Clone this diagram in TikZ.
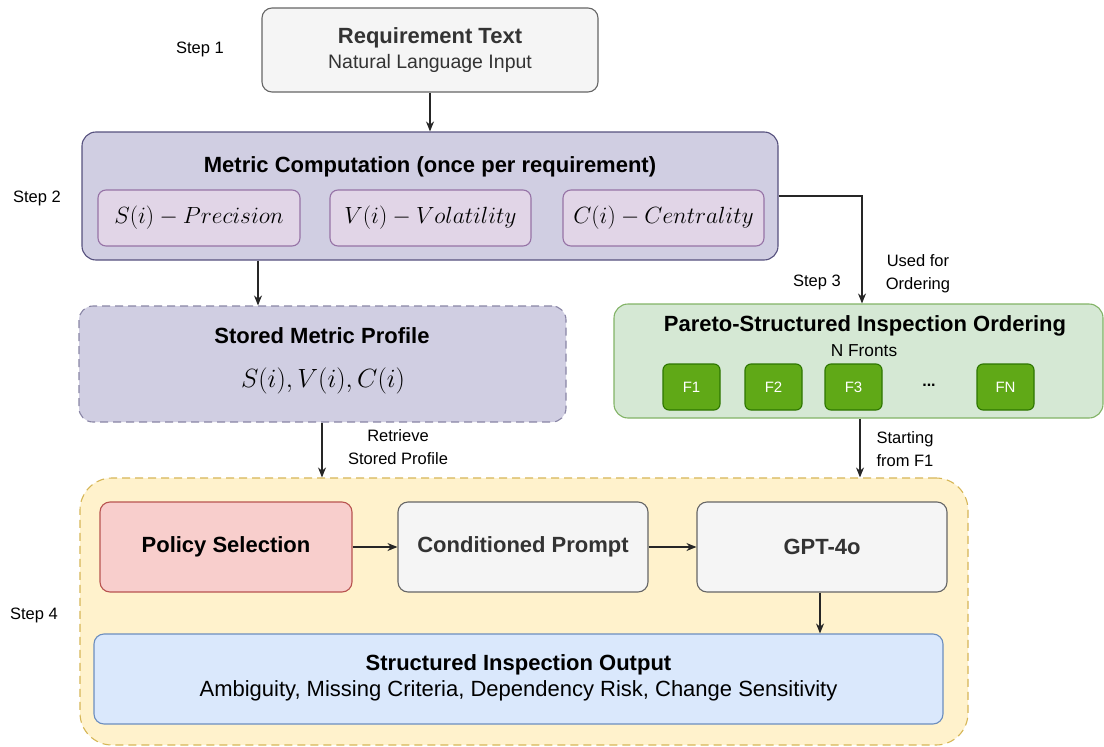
\documentclass[tikz,border=0pt]{standalone}
\usepackage{fontspec}
\usepackage{graphicx}
\setmainfont{Liberation Sans}
\usetikzlibrary{arrows.meta}
\definecolor{grayF}{HTML}{F5F5F5}\definecolor{grayS}{HTML}{666666}
\definecolor{purF}{HTML}{D0CEE2}\definecolor{purS}{HTML}{56517E}
\definecolor{lavF}{HTML}{E1D5E7}\definecolor{lavS}{HTML}{9673A6}
\definecolor{grnF}{HTML}{D5E8D4}\definecolor{grnS}{HTML}{82B366}
\definecolor{dgrF}{HTML}{60A917}\definecolor{dgrS}{HTML}{2D7600}
\definecolor{yelF}{HTML}{FFF2CC}\definecolor{yelS}{HTML}{D6B656}
\definecolor{redF}{HTML}{F8CECC}\definecolor{redS}{HTML}{B85450}
\definecolor{bluF}{HTML}{DAE8FC}\definecolor{bluS}{HTML}{6C8EBF}
\definecolor{txt}{HTML}{333333}
\tikzset{
  box/.style={draw, rounded corners=10pt, line width=1.1pt, inner sep=0pt, align=center},
  graybox/.style={box, fill=grayF, draw=grayS, text=txt},
  lavbox/.style={box, fill=lavF, draw=lavS, rounded corners=8pt},
  frontbox/.style={box, fill=dgrF, draw=dgrS, rounded corners=6pt, text=white, font=\fontsize{15}{17}\selectfont, minimum width=57pt, minimum height=46pt},
  arr/.style={-{Stealth[length=10pt,width=8pt]}, line width=1.1pt, draw=black!85},
  lbl/.style={font=\fontsize{16.5}{23}\selectfont, align=center, inner sep=0pt},
  steplbl/.style={font=\fontsize{16.5}{20}\selectfont, inner sep=0pt},
  ttl/.style={font=\fontsize{22}{26}\selectfont\bfseries, inner sep=0pt},
  sub/.style={font=\fontsize{19.5}{24}\selectfont, inner sep=0pt},
  mth/.style={font=\fontsize{20.74}{24}\selectfont, inner sep=0pt},
}
\begin{document}
\begin{tikzpicture}[x=1pt,y=-1pt]
\useasboundingbox (0,0) rectangle (1104,747);
% Step 1
\node[graybox, minimum width=336pt, minimum height=84pt] (req) at (430,50) {};
\node[ttl, text=txt] (reqt) at (430,38) {Requirement Text};
\node[sub, text=txt] (reqs) at (430,63) {Natural Language Input};
\node[steplbl] (s1) at (200,49) {Step 1};
% Step 2
\node[box, fill=purF, draw=purS, rounded corners=14pt, minimum width=696pt, minimum height=128pt] (met) at (430,196) {};
\node[ttl] (mett) at (430,167) {Metric Computation (once per requirement)};
\node[lavbox, minimum width=202pt, minimum height=56pt, mth] (ms) at (199,218) {\scalebox{1.13}{$S(i) - Precision$}};
\node[lavbox, minimum width=201pt, minimum height=56pt, mth] (mv) at (430.5,218) {\scalebox{1.13}{$V(i) - Volatility$}};
\node[lavbox, minimum width=201pt, minimum height=56pt, mth] (mc) at (663.5,218) {\scalebox{1.13}{$C(i) - Centrality$}};
\node[steplbl] (s2) at (37,198) {Step 2};
% Stored
\node[box, fill=purF, draw=purS!70, dashed, dash pattern=on 8pt off 5pt, rounded corners=14pt, minimum width=487pt, minimum height=116pt] (sto) at (322.5,364) {};
\node[ttl] (stot) at (322,336) {Stored Metric Profile};
\node[mth] (stom) at (323,381) {\scalebox{1.27}{$S(i), V(i), C(i)$}};
% Pareto
\node[box, fill=grnF, draw=grnS, rounded corners=14pt, minimum width=489pt, minimum height=114pt] (par) at (858.5,361) {};
\node[ttl] (part) at (865,326) {Pareto-Structured Inspection Ordering};
\node[font=\fontsize{17.3}{19}\selectfont, inner sep=0pt] (parn) at (864,351) {N Fronts};
\node[frontbox] (f1) at (691.5,387) {F1};
\node[frontbox] (f2) at (773.5,387) {F2};
\node[frontbox] (f3) at (853.5,387) {F3};
\node[font=\fontsize{16}{18}\selectfont\bfseries, inner sep=0pt] (fd) at (929,385) {...};
\node[frontbox] (fn) at (1005.5,387) {FN};
\node[steplbl] (s3) at (817,282) {Step 3};
% Step 4 container
\node[box, fill=yelF, draw=yelS, dashed, dash pattern=on 8pt off 5pt, rounded corners=32pt, minimum width=888pt, minimum height=267pt] (con) at (524,611.5) {};
\node[box, fill=redF, draw=redS, minimum width=252pt, minimum height=90pt, ttl] (pol) at (226,547) {Policy Selection};
\node[graybox, minimum width=250pt, minimum height=90pt, ttl] (cp) at (523,547) {Conditioned Prompt};
\node[graybox, minimum width=250pt, minimum height=90pt, ttl] (gpt) at (822,547) {GPT-4o};
\node[box, fill=bluF, draw=bluS, minimum width=849pt, minimum height=90pt] (out) at (518.5,679) {};
\node[ttl] (outt) at (518.5,665) {Structured Inspection Output};
\node[sub, font=\fontsize{22}{26}\selectfont] (outs) at (518.5,691) {Ambiguity, Missing Criteria, Dependency Risk, Change Sensitivity};
\node[steplbl] (s4) at (34,615) {Step 4};
% connectors
\draw[arr] (req.south) -- (met.north);
\draw[arr] (met.south -| 258,0) -- (sto.north -| 258,0);
\coordinate (bend) at (862,196);
\draw[arr] (met.east |- bend) -- (bend) -- (par.north -| bend);
\draw[arr] (sto.south -| 322,0) -- (con.north -| 322,0);
\draw[arr] (par.south -| 860,0) -- (con.north -| 860,0);
\draw[arr] (pol) -- (cp);
\draw[arr] (cp) -- (gpt);
\draw[arr] (gpt.south -| 820,0) -- (out.north -| 820,0);
% labels
\node[lbl] (l1) at (398,447) {Retrieve\\Stored Profile};
\node[lbl] (l2) at (918,274) {Used for\\Ordering};
\node[lbl, align=left] (l3) at (905,449) {Starting\\from F1};
\end{tikzpicture}
\end{document}
